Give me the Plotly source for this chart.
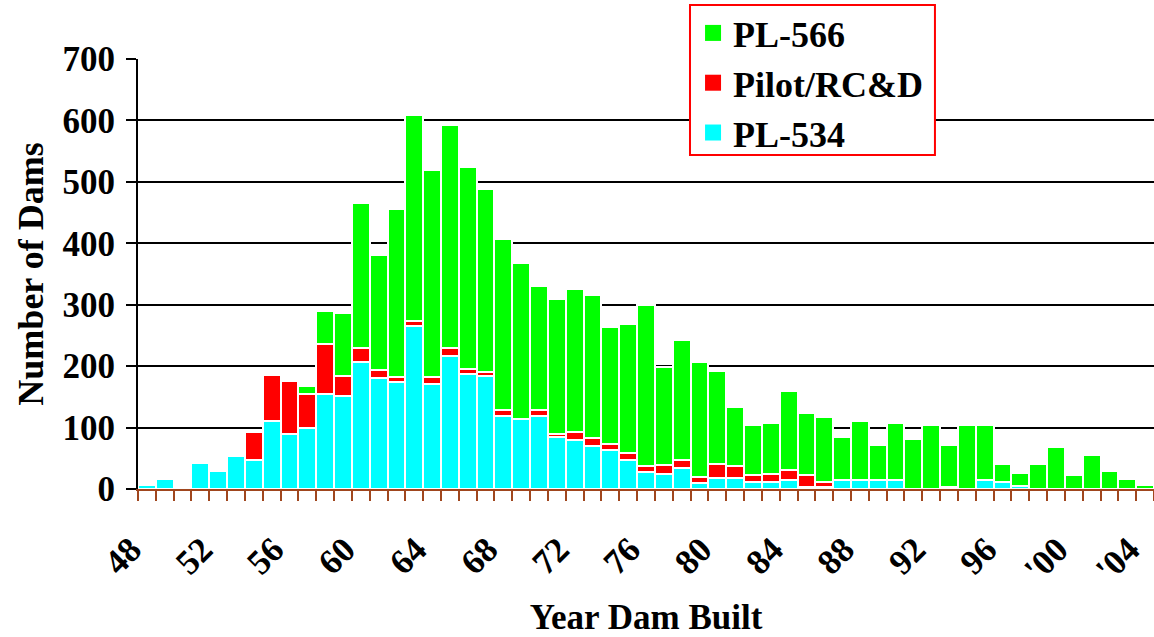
import plotly.graph_objects as go

# ---- data ----
years = list(range(1948, 2005))

pl534 = [7, 17, 4, 43, 30, 53, 48, 110, 90, 100,
         155, 152, 207, 181, 175, 266, 171, 217, 187, 184,
         119, 114, 119, 85, 80, 70, 64, 48, 28, 25,
         35, 9, 18, 18, 12, 12, 15, 4, 4, 14,
         14, 14, 14, 0, 0, 4, 0, 14, 11, 5,
         0, 0, 0, 0, 0, 0, 0]

pilot = [0, 0, 0, 0, 0, 0, 44, 76, 86, 55,
         81, 32, 23, 13, 7, 7, 11, 13, 8, 7,
         10, 0, 10, 5, 13, 13, 10, 10, 10, 14,
         13, 10, 23, 20, 10, 13, 16, 18, 7, 0,
         0, 0, 0, 0, 0, 0, 0, 0, 0, 0,
         0, 0, 0, 0, 0, 0, 0]

pl566 = [0, 0, 0, 0, 0, 0, 0, 0, 0, 12,
         54, 103, 236, 187, 274, 336, 337, 363, 330, 298,
         278, 254, 201, 220, 233, 233, 190, 210, 262, 160,
         194, 187, 151, 96, 83, 83, 129, 102, 107, 71,
         97, 58, 94, 82, 105, 68, 105, 91, 29, 21,
         40, 69, 23, 56, 30, 17, 6]

tick_years = [1948, 1952, 1956, 1960, 1964, 1968, 1972, 1976, 1980,
              1984, 1988, 1992, 1996, 2000, 2004]
tick_text = ["48", "52", "56", "60", "64", "68", "72", "76", "80",
             "84", "88", "92", "96", "'00", "'04"]

series_names = ["PL-534", "Pilot/RC&D", "PL-566"]
series_vals = [pl534, pilot, pl566]
series_colors = ["#00FFFF", "#FF0000", "#00FF00"]

FONT = "Liberation Serif"
BROWN = "#A0461E"

fig = go.Figure()
for name, vals, color in zip(series_names, series_vals, series_colors):
    fig.add_bar(x=years, y=vals, name=name, offset=0, width=1,
                marker=dict(color=color, line=dict(color="white", width=2)),
                showlegend=False)
for name, color in zip(series_names, series_colors):
    fig.add_scatter(x=[None], y=[None], mode="markers", name=name,
                    legendgroup=name,
                    marker=dict(symbol="square", size=17, color=color),
                    showlegend=True)

# legend frame (white box with red border)
fig.add_shape(type="rect", xref="paper", yref="paper",
              x0=0.5433, x1=0.7844, y0=0.7767, y1=1.1256,
              fillcolor="white", line=dict(color="red", width=2),
              layer="above")

fig.update_layout(
    width=1154, height=637,
    margin=dict(l=138, r=0, t=59, b=148, autoexpand=False),
    paper_bgcolor="white", plot_bgcolor="white",
    barmode="stack", bargap=0,
    font=dict(family=FONT, size=35, color="black", weight="bold"),
    legend=dict(x=0.5463, y=1.1302, xanchor="left", yanchor="top",
                bgcolor="rgba(0,0,0,0)", borderwidth=0,
                traceorder="reversed", tracegroupgap=0,
                font=dict(family=FONT, size=36, color="black", weight="bold")),
    xaxis=dict(range=[1948, 2005], tickmode="array", tickvals=tick_years,
               ticktext=tick_text, tickangle=-45,
               tickfont=dict(family=FONT, size=35, color="black", weight="bold"),
               ticks="outside", ticklen=10, tickwidth=2, tickcolor=BROWN,
               showline=True, linecolor=BROWN, linewidth=2,
               showgrid=False, zeroline=False, automargin=False,
               minor=dict(tickmode="array", tickvals=years + [2005],
                          ticks="outside", ticklen=10, tickwidth=2,
                          tickcolor=BROWN, showgrid=False),
               ticklabelstandoff=14, ticklabelshift=-7,
               title=dict(text="Year Dam Built", standoff=16,
                          font=dict(family=FONT, size=35, color="black", weight="bold"))),
    yaxis=dict(range=[0, 700], dtick=100, tick0=0,
               tickfont=dict(family=FONT, size=35, color="black", weight="bold"),
               ticks="outside", ticklen=10, tickwidth=1.5, tickcolor="black",
               showline=True, linecolor="black", linewidth=2,
               showgrid=True, gridcolor="black", gridwidth=1.7,
               zeroline=False, ticklabelstandoff=4, automargin=False,
               title=dict(text="Number of Dams", standoff=8,
                          font=dict(family=FONT, size=36, color="black", weight="bold"))),
)

fig.write_html("out.html", config={"displayModeBar": False},
               post_script="document.body.style.margin='0';document.body.style.padding='0';document.body.style.overflow='hidden';")
